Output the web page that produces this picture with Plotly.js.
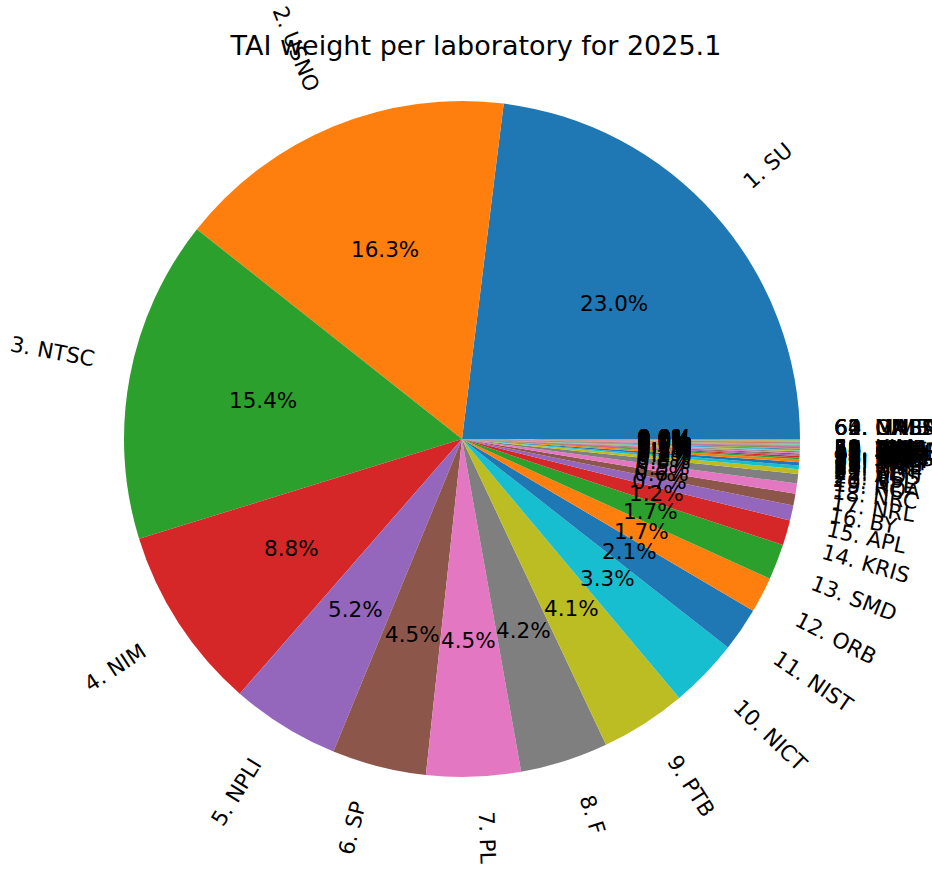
<!DOCTYPE html>
<html><head><meta charset="utf-8">
<script src="https://cdn.plot.ly/plotly-3.0.1.min.js"></script>
<style>html,body{margin:0;padding:0;background:#fff}</style>
</head><body>
<div id="chart" style="width:932px;height:869px"></div>
<script>
// ---- data ----
const labs = ["SU","USNO","NTSC","NIM","NPLI","SP","PL","F","PTB","NICT",
  "NIST","ORB","SMD","KRIS","APL","BY","NRL","NRC","ROA","NPL",
  "VSL","AOS","TL","NMIJ","CH","IT","UME","IFAG","TP","NIMT",
  "SG","MKEH","NAO","BEV","DTAG","ESTC","HKO","INTI","KZ","LT",
  "MSL","NIS","ONRJ","SCL","SIQ","ZA","CNM","CNMP","DMDM","IPQ",
  "MIKE","VMI","AUS","BIM","EIM","GUM","IGNA","INCP","KIM","MASM",
  "NIMB","NMLS","ONBA","UA"];
const weights = [23.0,16.3,15.4,8.8,5.2,4.5,4.5,4.2,4.1,3.3,
  2.1,1.7,1.7,1.2,0.72,0.56,0.49,0.45,0.23,0.17,
  0.16,0.14,0.08,0.07,0.06,0.06,0.05,0.05,0.04,0.04,
  0.04,0.03,0.03,0.03,0.03,0.02,0.02,0.02,0.02,0.02,
  0.02,0.02,0.02,0.02,0.015,0.015,0.015,0.015,0.015,0.01,
  0.01,0.01,0.01,0.01,0.01,0.01,0.005,0.005,0.005,0,
  0,0,0,0];
const chartTitle = "TAI weight per laboratory for 2025.1";
const tab10 = ["#1f77b4","#ff7f0e","#2ca02c","#d62728","#9467bd",
  "#8c564b","#e377c2","#7f7f7f","#bcbd22","#17becf"];

// ---- layout geometry ----
const W = 932, H = 869;
const cx = 462, cy = 439, R = 338;
const FONT = "DejaVu Sans";
const labelSize = 21.5, titleSize = 27;

const labelTexts = labs.map((l, i) => (i + 1) + ". " + l);
const colors = labs.map((_, i) => tab10[i % 10]);
const total = weights.reduce((a, b) => a + b, 0);

const canvas = document.createElement("canvas");
const ctx = canvas.getContext("2d");
ctx.font = labelSize + 'px "' + FONT + '"';

const px2x = px => px / W;
const py2y = py => 1 - py / H;

// matplotlib text box height ("lp" ascent+descent) and the offset between
// matplotlib's box centre and the SVG text box centre (both above baseline)
const boxH = 0.968 * labelSize;
const centreShift = 0.07 * labelSize;

const annotations = [];
let theta1 = 0;
weights.forEach((v, i) => {
  const frac = v / total;
  const theta2 = theta1 + frac;
  const midFrac = 0.5 * (theta1 + theta2);
  theta1 = theta2;
  const theta = 2 * Math.PI * midFrac;
  const c = Math.cos(theta), s = Math.sin(theta);

  // percentage label at 0.6 R (centred, horizontal)
  const pct = (100 * frac).toFixed(1) + "%";
  annotations.push({
    xref: "paper", yref: "paper",
    x: px2x(cx + 0.6 * R * c), y: py2y(cy - 0.6 * R * s - centreShift),
    xanchor: "center", yanchor: "middle", showarrow: false,
    text: pct, font: {family: FONT, size: labelSize, color: "#000"}
  });

  // outside rotated label at 1.1 R, aligned like matplotlib (rotate, then
  // align the rotated bounding box: left/right by x side, bottom/top by y side)
  const txt = labelTexts[i];
  const w = ctx.measureText(txt).width;
  const ax = cx + 1.1 * R * c, ay = cy - 1.1 * R * s;
  const right = c > 0;
  // slices closing the circle sit at/above 0 deg (float overshoot past 1)
  const upper = s > 0 || midFrac >= 1 - 1e-12;
  const rotDeg = theta * 180 / Math.PI + (right ? 0 : 180);
  const rr = rotDeg * Math.PI / 180;
  const bw = Math.abs(w * Math.cos(rr)) + Math.abs(boxH * Math.sin(rr));
  const bh = Math.abs(w * Math.sin(rr)) + Math.abs(boxH * Math.cos(rr));
  let px = ax + (right ? bw / 2 : -bw / 2);
  let py = ay + (upper ? -bh / 2 : bh / 2);
  // move from matplotlib box centre to SVG box centre (along text "up")
  px += -Math.sin(rr) * centreShift;
  py += -Math.cos(rr) * centreShift;
  annotations.push({
    xref: "paper", yref: "paper",
    x: px2x(px), y: py2y(py),
    xanchor: "center", yanchor: "middle", showarrow: false,
    textangle: -rotDeg,
    text: txt, font: {family: FONT, size: labelSize, color: "#000"}
  });
});

// Plotly (counterclockwise) puts the END of the first slice at `rotation`;
// first slice must start at 3 o'clock like matplotlib's startangle=0.
const firstSliceDeg = 360 * weights[0] / total;

const trace = {
  type: "pie",
  labels: labs,
  values: weights,
  sort: false,
  direction: "counterclockwise",
  rotation: 90 - firstSliceDeg,
  textinfo: "none",
  hoverinfo: "none",
  showlegend: false,
  marker: {colors: colors, line: {width: 0}},
  domain: {x: [px2x(cx - R), px2x(cx + R)], y: [py2y(cy + R), py2y(cy - R)]}
};

const layout = {
  width: W, height: H,
  margin: {l: 0, r: 0, t: 0, b: 0, pad: 0, autoexpand: false},
  paper_bgcolor: "#fff",
  showlegend: false,
  title: {
    text: chartTitle,
    font: {family: FONT, size: titleSize, color: "#000"},
    x: px2x(476), xanchor: "center", xref: "paper",
    y: py2y(46), yanchor: "middle", yref: "paper"
  },
  annotations: annotations
};

Plotly.newPlot("chart", [trace], layout, {displayModeBar: false, staticPlot: true});
</script>
</body></html>
